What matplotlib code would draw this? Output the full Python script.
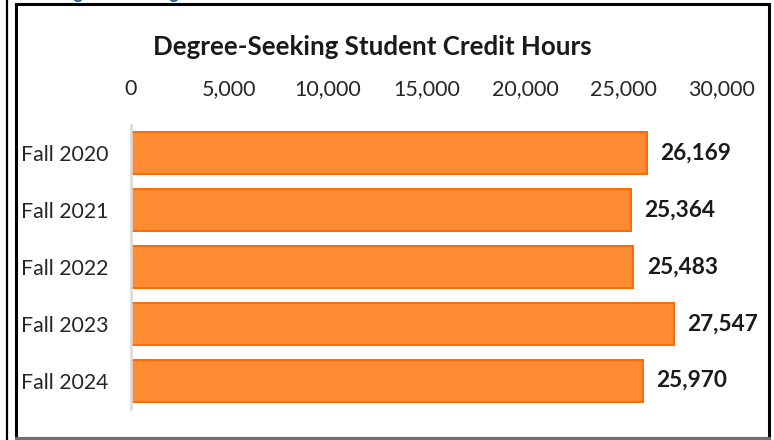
import matplotlib
matplotlib.use("Agg")
import matplotlib.pyplot as plt
from matplotlib.patches import Rectangle
from matplotlib.lines import Line2D

# data
terms = ["Fall 2020", "Fall 2021", "Fall 2022", "Fall 2023", "Fall 2024"]
hours = [26169, 25364, 25483, 27547, 25970]
xticks = [0, 5000, 10000, 15000, 20000, 25000, 30000]

plt.rcParams['font.family'] = ['Lato', 'DejaVu Sans']

W, H = 774, 440
fig = plt.figure(figsize=(W / 100, H / 100), dpi=100)

# frames around the chart (as in the pasted report image)
fig.add_artist(Line2D([7 / W, 7 / W], [0, 1], color='black', lw=1.6))
fig.add_artist(Rectangle((16 / W, 2.5 / H), (769 - 16) / W, (436 - 2.5) / H,
                         fill=False, edgecolor='black', lw=2.2))
fig.add_artist(Line2D([16 / W, 769 / W], [2.5 / H, 2.5 / H], color='#707070', lw=2.2))

# heading of the report, cut off by the top edge (only descenders show)
fig.text(50 / W, 1 + 1.5 / H, "Degree-Seeking Student Credit Hours", color='#2F5CA8',
         fontsize=13, fontweight='bold', va='baseline', ha='left')

ax = fig.add_axes([131 / W, (H - 409) / H, (722 - 131) / W, (409 - 125) / H])
ax.barh(range(len(terms)), hours, height=0.74, color='#FF8C33',
        edgecolor='#FF6A00', linewidth=1.4)
ax.set_xlim(0, 30000)
ax.set_ylim(4.5, -0.5)
ax.set_yticks(range(len(terms)))
ax.set_yticklabels(terms, fontsize=15.3, color='#262626')
ax.set_xticks(xticks)
ax.set_xticklabels([f"{v:,}" for v in xticks], fontsize=15.5, color='#262626')
ax.xaxis.tick_top()
ax.tick_params(axis='both', length=0)
ax.tick_params(axis='x', pad=18.5)
ax.tick_params(axis='y', pad=16.5)
for s in ['top', 'right', 'bottom']:
    ax.spines[s].set_visible(False)
ax.spines['left'].set_color('#d9d9d9')
ax.spines['left'].set_linewidth(1.8)

for i, v in enumerate(hours):
    ax.annotate(f"{v:,}", (v, i), xytext=(10, 0), textcoords='offset points',
                va='center', ha='left', fontsize=16.3, fontweight='bold', color='#1a1a1a')

fig.text(372 / W, 1 - 47 / H, "Degree-Seeking Student Credit Hours", ha='center',
         va='center', fontsize=18.6, fontweight='bold', color='#1a1a1a')

fig.savefig("out.png", dpi=100)
